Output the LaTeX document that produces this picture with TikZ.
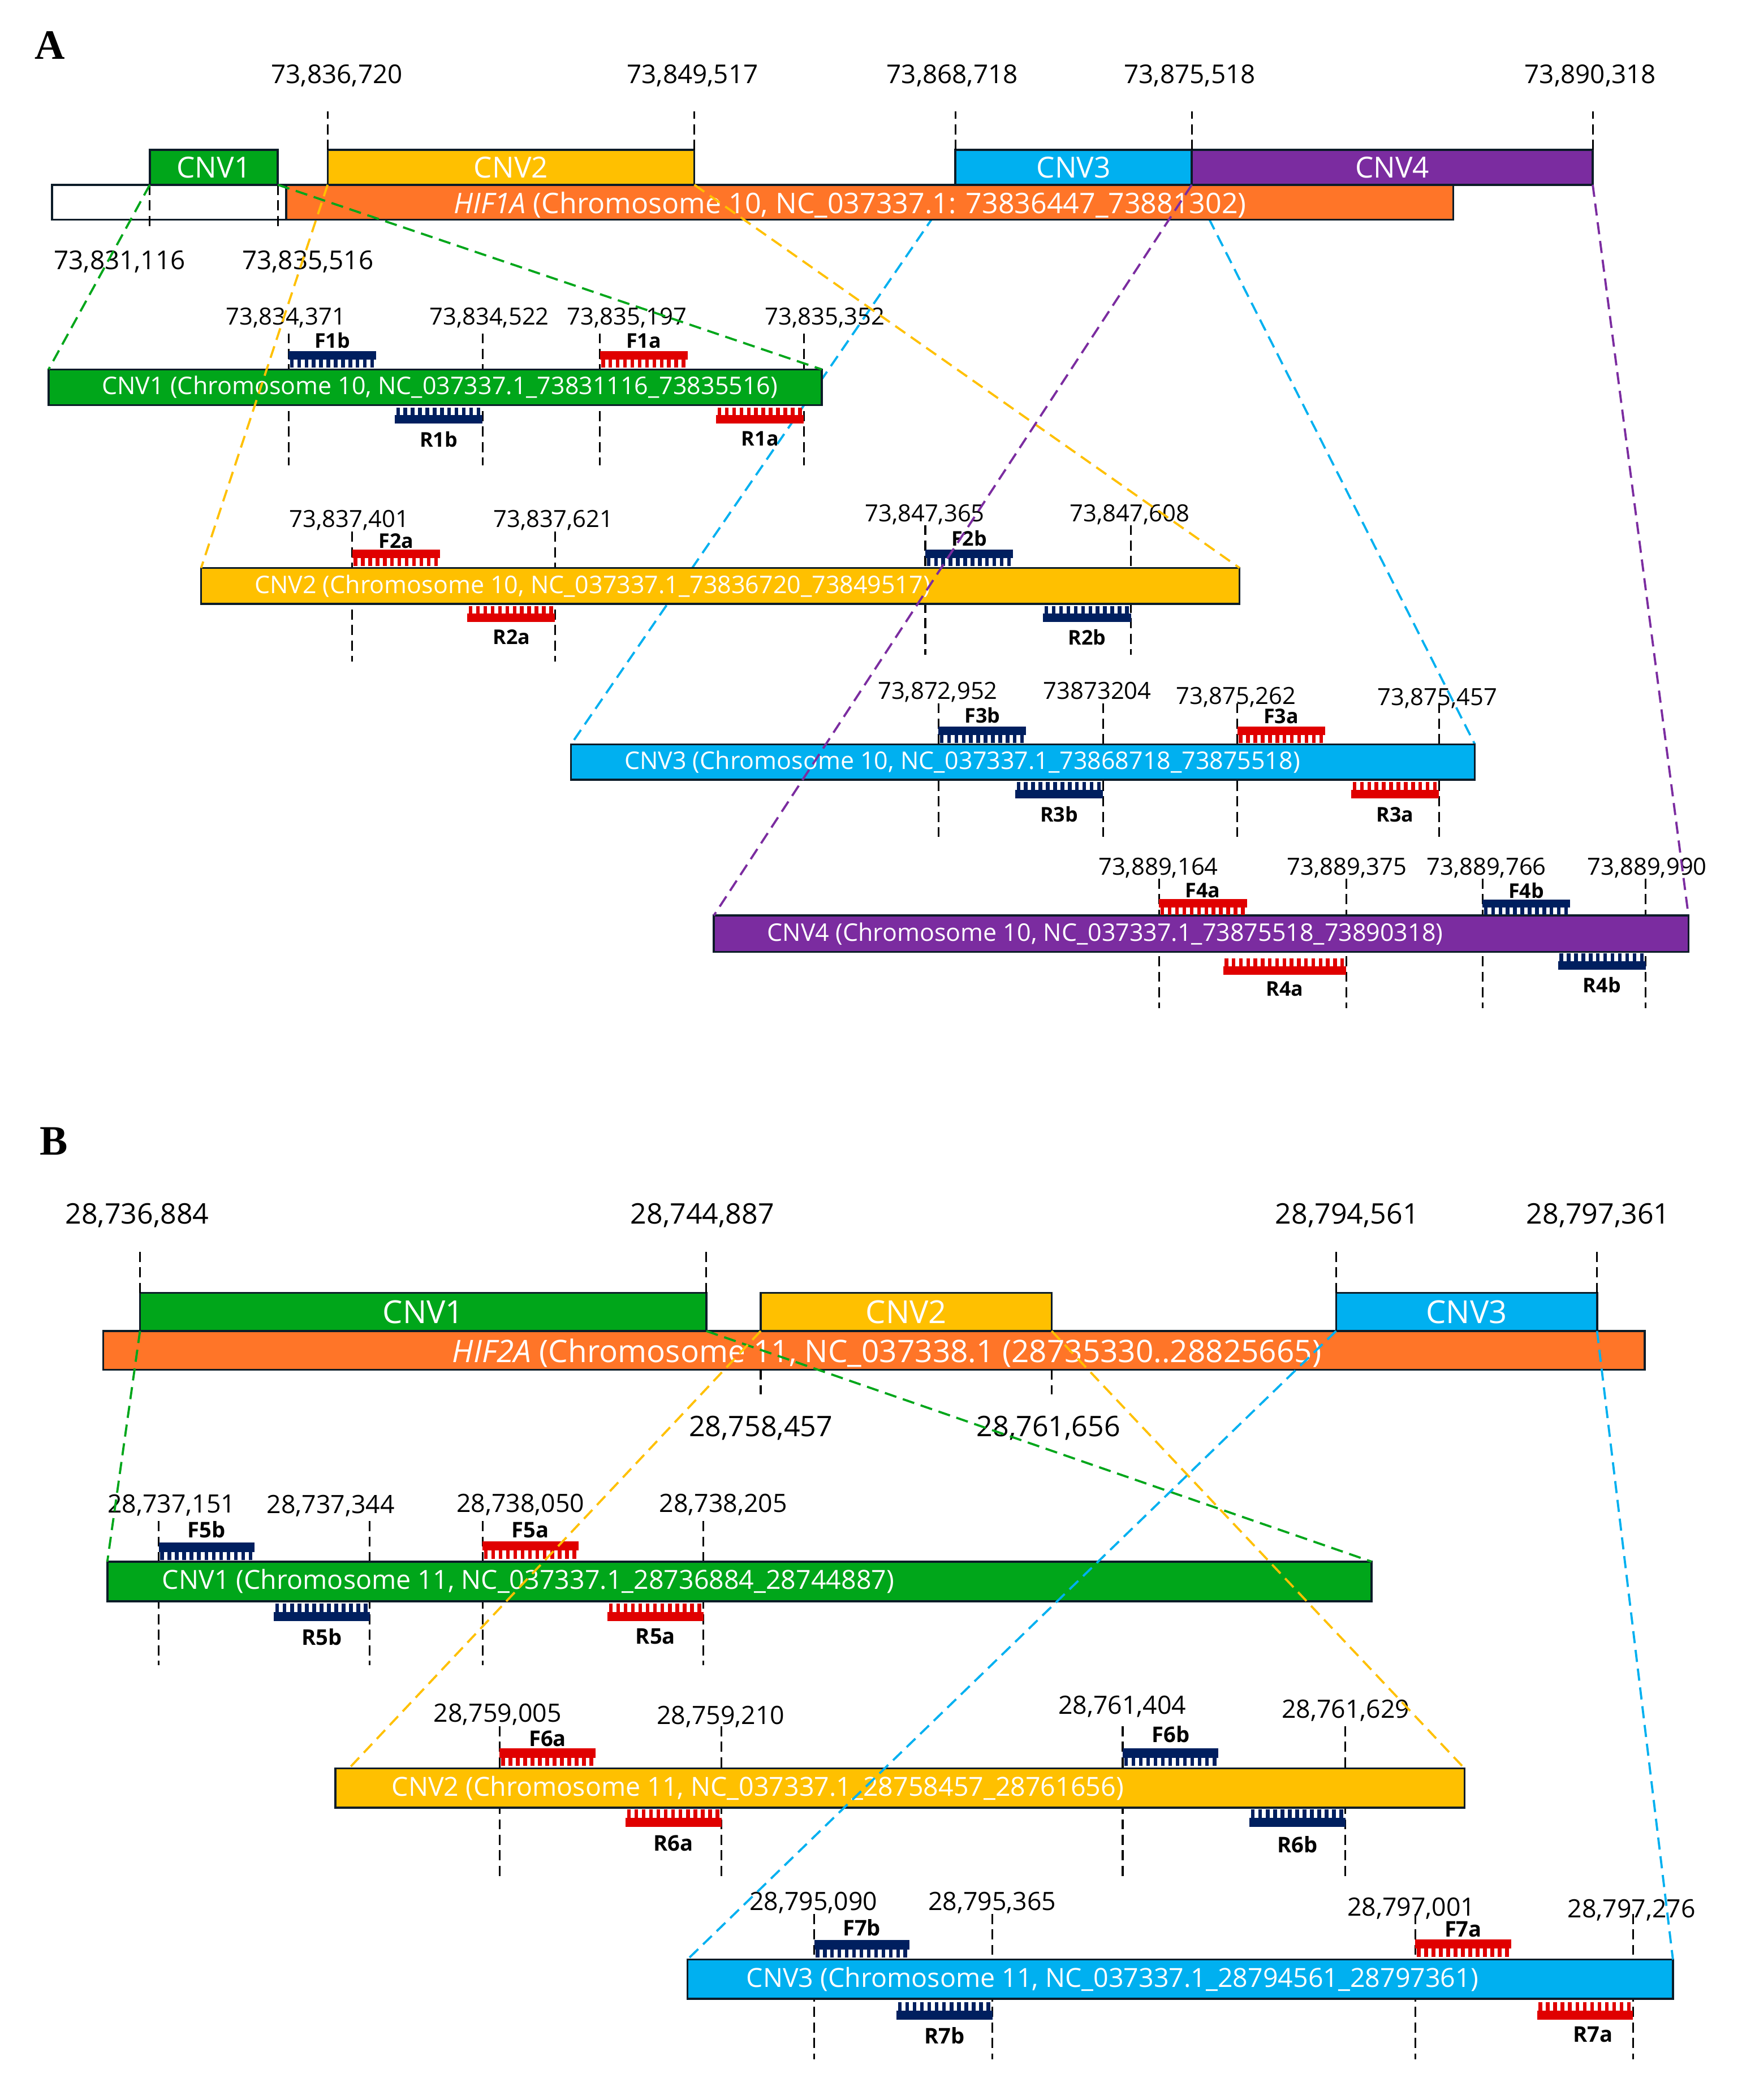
\documentclass[tikz,border=0pt]{standalone}
\usepackage{fontspec}
\setmainfont{Open Sans}
\newfontfamily\panelfont{Liberation Serif}
\usepackage{tikz}
\usetikzlibrary{backgrounds}
\definecolor{cnvgreen}{HTML}{00A61A}
\definecolor{cnvyellow}{HTML}{FFC000}
\definecolor{cnvblue}{HTML}{00B0F0}
\definecolor{cnvpurple}{HTML}{7B2CA0}
\definecolor{geneorange}{HTML}{FF7528}
\definecolor{primred}{HTML}{E00000}
\definecolor{primnavy}{HTML}{001F5F}
\definecolor{barline}{HTML}{0C1C28}
\tikzset{panellab/.style={inner sep=0pt,font=\panelfont\fontsize{31}{31}\selectfont\bfseries}}
\tikzset{genebar/.style={draw=barline,line width=1.5pt,inner sep=0pt,outer sep=0pt,anchor=north west}}
\tikzset{detailbar/.style={draw=barline,line width=1.5pt,inner sep=0pt,outer sep=0pt,anchor=north west}}
\tikzset{cnvboxA/.style={genebar,minimum height=25.9pt,text=white,font=\fontsize{21.5}{24}\selectfont}}
\tikzset{cnvboxB/.style={genebar,minimum height=28.2pt,text=white,font=\fontsize{23.5}{26}\selectfont}}
\tikzset{genetextA/.style={anchor=base,inner sep=0pt,text=white,font=\fontsize{21}{24}\selectfont}}
\tikzset{genetextB/.style={anchor=base,inner sep=0pt,text=white,font=\fontsize{23}{26}\selectfont}}
\tikzset{bartextA/.style={anchor=west,inner sep=0pt,text=white,font=\fontsize{18}{21}\selectfont}}
\tikzset{bartextB/.style={anchor=west,inner sep=0pt,text=white,font=\fontsize{19.5}{22}\selectfont}}
\tikzset{toplabA/.style={anchor=base,inner sep=0pt,font=\fontsize{19.2}{22}\selectfont}}
\tikzset{toplabB/.style={anchor=base,inner sep=0pt,font=\fontsize{21}{24}\selectfont}}
\tikzset{poslabA/.style={anchor=base,inner sep=0pt,font=\fontsize{17.5}{20}\selectfont}}
\tikzset{poslabB/.style={anchor=base,inner sep=0pt,font=\fontsize{18.7}{21}\selectfont}}
\tikzset{primlabA/.style={anchor=base,inner sep=0pt,font=\fontsize{15}{17}\selectfont\bfseries}}
\tikzset{primlabB/.style={anchor=base,inner sep=0pt,font=\fontsize{16}{18}\selectfont\bfseries}}
\tikzset{vtick/.style={draw=black,line width=1.3pt,dash pattern=on 7.5pt off 4pt}}
\tikzset{cnvlink/.style={line width=1.6pt,dash pattern=on 9pt off 5pt}}
% primer: solid strand with a comb of teeth towards the CNV bar
\tikzset{
  pics/fprimer/.style n args={3}{code={
    \pgfmathtruncatemacro\nteeth{#2/5.4+0.5}
    \pgfmathsetmacro\pitch{#2/\nteeth}
    \fill[#1] (0,0) rectangle ({#2},{0.53*#3});
    \foreach \i in {1,...,\nteeth}
      \fill[#1] ({(\i-0.8)*\pitch},{0.53*#3}) rectangle ++({0.5*\pitch},{0.47*#3});
  }},
  pics/rprimer/.style n args={3}{code={
    \pgfmathtruncatemacro\nteeth{#2/5.4+0.5}
    \pgfmathsetmacro\pitch{#2/\nteeth}
    \foreach \i in {1,...,\nteeth}
      \fill[#1] ({(\i-0.8)*\pitch},0) rectangle ++({0.5*\pitch},{0.47*#3});
    \fill[#1] (0,{0.47*#3}) rectangle ({#2},{#3});
  }}
}
\begin{document}
\begin{tikzpicture}[x=1pt,y=-1pt]
\useasboundingbox (0,0) rectangle (1290,1556);

%%% A
\node[panellab] (labA) at (37,33.7) {A};

% ticks of the primer rows
\draw[vtick] (213.7,247) -- (213.7,345) (357.4,247) -- (357.4,345) (444.3,247) -- (444.3,345) (595.5,247) -- (595.5,345);
\draw[vtick] (260.9,394) -- (260.9,490) (411.2,394) -- (411.2,490) (685.4,389) -- (685.4,485) (837.7,389) -- (837.7,485);
\draw[vtick] (695.1,521) -- (695.1,620) (817,521) -- (817,620) (916.6,521) -- (916.6,620) (1065.9,521) -- (1065.9,620);
\draw[vtick] (858.6,651) -- (858.6,747) (997.2,651) -- (997.2,747) (1098.1,651) -- (1098.1,747) (1219.1,651) -- (1219.1,747);

% HIF1A and its CNVs
\node[genebar,fill=white,minimum width=173.5pt,minimum height=25.8pt] (hifAw) at (38.5,136.9) {};
\node[genebar,fill=geneorange,minimum width=864.5pt,minimum height=25.8pt] (hifA) at (212,136.9) {};
\node[genetextA] (hifAtext) at (629.7,158.3) {\textit{HIF1A} (Chromosome 10, NC\_037337.1: 73836447\_73881302)};
\node[cnvboxA,fill=cnvgreen,minimum width=94.8pt] (cnv1s) at (111,111) {CNV1};
\node[cnvboxA,fill=cnvyellow,minimum width=271.6pt] (cnv2s) at (242.7,111) {CNV2};
\node[cnvboxA,fill=cnvblue,minimum width=175.1pt] (cnv3s) at (707.7,111) {CNV3};
\node[cnvboxA,fill=cnvpurple,minimum width=297pt] (cnv4s) at (882.8,111) {CNV4};
\draw[vtick] (cnv2s.north west) -- ++(0,-28.6);
\draw[vtick] (cnv2s.north east) -- ++(0,-28.6);
\draw[vtick] (cnv3s.north west) -- ++(0,-28.6);
\draw[vtick] (cnv4s.north west) -- ++(0,-28.6);
\draw[vtick] (cnv4s.north east) -- ++(0,-28.6);
\draw[vtick] (cnv1s.south west) -- ++(0,32.8);
\draw[vtick] (cnv1s.south east) -- ++(0,32.8);

\node[toplabA] (p836720) at (249.5,62) {73,836,720};
\node[toplabA] (p849517) at (513,62) {73,849,517};
\node[toplabA] (p868718) at (705.4,62) {73,868,718};
\node[toplabA] (p875518) at (881.3,62) {73,875,518};
\node[toplabA] (p890318) at (1178,62) {73,890,318};
\node[toplabA] (p831116) at (88.6,199.5) {73,831,116};
\node[toplabA] (p835516) at (228,199.5) {73,835,516};

% detail bars
\node[detailbar,fill=cnvgreen,minimum width=572.7pt,minimum height=26.5pt] (cnv1A) at (36,273.7) {};
\node[bartextA] (cnv1Atext) at ([xshift=39.4pt]cnv1A.west) {CNV1 (Chromosome 10, NC\_037337.1\_73831116\_73835516)};
\node[detailbar,fill=cnvyellow,minimum width=769.2pt,minimum height=26.6pt] (cnv2A) at (149,420.8) {};
\node[bartextA] (cnv2Atext) at ([xshift=39.4pt]cnv2A.west) {CNV2 (Chromosome 10, NC\_037337.1\_73836720\_73849517)};
\node[detailbar,fill=cnvblue,minimum width=669.5pt,minimum height=26.2pt] (cnv3A) at (423,551.5) {};
\node[bartextA] (cnv3Atext) at ([xshift=39.4pt]cnv3A.west) {CNV3 (Chromosome 10, NC\_037337.1\_73868718\_73875518)};
\node[detailbar,fill=cnvpurple,minimum width=721.9pt,minimum height=27pt] (cnv4A) at (528.8,678.3) {};
\node[bartextA] (cnv4Atext) at ([xshift=39.4pt]cnv4A.west) {CNV4 (Chromosome 10, NC\_037337.1\_73875518\_73890318)};

% primers
\pic at (213.7,260.2) {fprimer={primnavy}{65}{12}};
\pic at (444.3,260.2) {fprimer={primred}{65}{12}};
\pic at (292.4,302) {rprimer={primnavy}{65}{12}};
\pic at (530.5,302) {rprimer={primred}{65}{12}};
\pic at (260.9,407.3) {fprimer={primred}{65}{12}};
\pic at (346.2,449) {rprimer={primred}{65}{12}};
\pic at (685.4,407.3) {fprimer={primnavy}{65}{12}};
\pic at (772.7,449) {rprimer={primnavy}{65}{12}};
\pic at (695.1,538.3) {fprimer={primnavy}{65}{12}};
\pic at (752,579.5) {rprimer={primnavy}{65}{12}};
\pic at (916.6,538.3) {fprimer={primred}{65}{12}};
\pic at (1000.9,579.5) {rprimer={primred}{65}{12}};
\pic at (858.6,666) {fprimer={primred}{65}{12}};
\pic at (906,710.3) {rprimer={primred}{91.2}{12}};
\pic at (1098.1,666.5) {fprimer={primnavy}{65}{11.5}};
\pic at (1154.1,706.5) {rprimer={primnavy}{65}{12}};

\node[primlabA] (F1b) at (246.2,258) {F1b};
\node[primlabA] (F1a) at (476.8,258) {F1a};
\node[primlabA] (R1b) at (324.9,331) {R1b};
\node[primlabA] (R1a) at (563,330.5) {R1a};
\node[primlabA] (F2a) at (293.4,406) {F2a};
\node[primlabA] (F2b) at (717.9,404.5) {F2b};
\node[primlabA] (R2a) at (379,477.5) {R2a};
\node[primlabA] (R2b) at (805.2,478) {R2b};
\node[primlabA] (F3b) at (727.6,535.8) {F3b};
\node[primlabA] (F3a) at (949,536) {F3a};
\node[primlabA] (R3b) at (784.5,609) {R3b};
\node[primlabA] (R3a) at (1033.4,609) {R3a};
\node[primlabA] (F4a) at (891,665) {F4a};
\node[primlabA] (F4b) at (1130.6,665.5) {F4b};
\node[primlabA] (R4a) at (951.6,738) {R4a};
\node[primlabA] (R4b) at (1186.6,735.3) {R4b};

\node[poslabA] (p834371) at (211.6,240.5) {73,834,371};
\node[poslabA] (p834522) at (362.4,240.5) {73,834,522};
\node[poslabA] (p835197) at (464.4,240.5) {73,835,197};
\node[poslabA] (p835352) at (611,240.5) {73,835,352};
\node[poslabA] (p837401) at (258.8,390.5) {73,837,401};
\node[poslabA] (p837621) at (410,390.5) {73,837,621};
\node[poslabA] (p847365) at (685,386.4) {73,847,365};
\node[poslabA] (p847608) at (836.8,386.4) {73,847,608};
\node[poslabA] (p872952) at (694.6,518) {73,872,952};
\node[poslabA] (p873204) at (812.8,518) {73873204};
\node[poslabA] (p875262) at (915.5,521.6) {73,875,262};
\node[poslabA] (p875457) at (1064.7,522.6) {73,875,457};
\node[poslabA] (p889164) at (858,648.4) {73,889,164};
\node[poslabA] (p889375) at (997.7,648.4) {73,889,375};
\node[poslabA] (p889766) at (1101,648.4) {73,889,766};
\node[poslabA] (p889990) at (1220,648.4) {73,889,990};

\draw[cnvlink,cnvgreen] (cnv1s.south west) -- (cnv1A.north west);
\draw[cnvlink,cnvgreen] (cnv1s.south east) -- (cnv1A.north east);
\draw[cnvlink,cnvyellow] (cnv2s.south west) -- (cnv2A.north west);
\draw[cnvlink,cnvyellow] (cnv2s.south east) -- (cnv2A.north east);
\draw[cnvlink,cnvpurple] (cnv4s.south west) -- (cnv4A.north west);
\draw[cnvlink,cnvpurple] (cnv4s.south east) -- (cnv4A.north east);

%%% B
\node[panellab] (labB) at (40,845.5) {B};

\draw[vtick] (117.6,1127) -- (117.6,1234) (273.9,1127) -- (273.9,1234) (357.4,1127) -- (357.4,1234) (521,1127) -- (521,1234);
\draw[vtick] (370.1,1279) -- (370.1,1392) (534.4,1279) -- (534.4,1392) (831.6,1279) -- (831.6,1392) (996.6,1279) -- (996.6,1392);
\draw[vtick] (603.1,1418) -- (603.1,1526) (735.1,1418) -- (735.1,1526) (1048.4,1418) -- (1048.4,1526) (1209.6,1418) -- (1209.6,1526);

\node[genebar,fill=geneorange,minimum width=1141.9pt,minimum height=28.7pt] (hifB) at (76.5,986.2) {};
\node[genetextB] (hifBtext) at (656.9,1009.5) {\textit{HIF2A} (Chromosome 11, NC\_037338.1 (28735330..28825665)};
\node[cnvboxB,fill=cnvgreen,minimum width=419.5pt] (cnv1sB) at (103.7,958) {CNV1};
\node[cnvboxB,fill=cnvyellow,minimum width=215.5pt] (cnv2sB) at (563.5,958) {CNV2};
\node[cnvboxB,fill=cnvblue,minimum width=193.3pt] (cnv3sB) at (989.7,958) {CNV3};
\draw[vtick] (cnv1sB.north west) -- ++(0,-31.7);
\draw[vtick] (cnv1sB.north east) -- ++(0,-31.7);
\draw[vtick] (cnv3sB.north west) -- ++(0,-31.7);
\draw[vtick] (cnv3sB.north east) -- ++(0,-31.7);
\draw[vtick] (cnv2sB.south west) ++(0,28.7) -- ++(0,18.1);
\draw[vtick] (cnv2sB.south east) ++(0,28.7) -- ++(0,18.1);

\node[toplabB] (p736884) at (101.6,907) {28,736,884};
\node[toplabB] (p744887) at (520.3,907) {28,744,887};
\node[toplabB] (p794561) at (997.9,907) {28,794,561};
\node[toplabB] (p797361) at (1183.8,907) {28,797,361};
\node[toplabB] (p758457) at (563.5,1064.4) {28,758,457};
\node[toplabB] (p761656) at (776.6,1064.4) {28,761,656};

\node[detailbar,fill=cnvgreen,minimum width=936.5pt,minimum height=29.4pt] (cnv1B) at (79.5,1157.1) {};
\node[bartextB] (cnv1Btext) at ([xshift=40.5pt]cnv1B.west) {CNV1 (Chromosome 11, NC\_037337.1\_28736884\_28744887)};
\node[detailbar,fill=cnvyellow,minimum width=836.3pt,minimum height=29pt] (cnv2B) at (248.5,1310.3) {};
\node[bartextB] (cnv2Btext) at ([xshift=41.5pt]cnv2B.west) {CNV2 (Chromosome 11, NC\_037337.1\_28758457\_28761656)};
\node[detailbar,fill=cnvblue,minimum width=730pt,minimum height=29.1pt] (cnv3B) at (509.2,1451.9) {};
\node[bartextB] (cnv3Btext) at ([xshift=43.5pt]cnv3B.west) {CNV3 (Chromosome 11, NC\_037337.1\_28794561\_28797361)};

\pic at (117.6,1143) {fprimer={primnavy}{71}{13}};
\pic at (357.4,1142) {fprimer={primred}{71}{13}};
\pic at (202.9,1188.3) {rprimer={primnavy}{71}{13}};
\pic at (450,1188.3) {rprimer={primred}{71}{13}};
\pic at (370.1,1295.5) {fprimer={primred}{71}{13}};
\pic at (463.4,1340.8) {rprimer={primred}{71}{13}};
\pic at (831.6,1295.5) {fprimer={primnavy}{71}{13}};
\pic at (925.6,1340.8) {rprimer={primnavy}{71}{13}};
\pic at (603.1,1437.5) {fprimer={primnavy}{70.5}{13}};
\pic at (664.1,1483.5) {rprimer={primnavy}{71}{13}};
\pic at (1048.4,1437) {fprimer={primred}{71}{13}};
\pic at (1138.6,1483.5) {rprimer={primred}{71}{13}};

\node[primlabB] (F5b) at (153,1139.5) {F5b};
\node[primlabB] (F5a) at (392.8,1139.3) {F5a};
\node[primlabB] (R5b) at (238.4,1219) {R5b};
\node[primlabB] (R5a) at (485.5,1218.3) {R5a};
\node[primlabB] (F6a) at (405.6,1294) {F6a};
\node[primlabB] (F6b) at (867.1,1291.2) {F6b};
\node[primlabB] (R6a) at (498.9,1371.6) {R6a};
\node[primlabB] (R6b) at (961.1,1372.5) {R6b};
\node[primlabB] (F7b) at (638.3,1434.2) {F7b};
\node[primlabB] (F7a) at (1083.8,1435.3) {F7a};
\node[primlabB] (R7b) at (699.6,1514.5) {R7b};
\node[primlabB] (R7a) at (1180,1513) {R7a};

\node[poslabB] (p737151) at (127,1121) {28,737,151};
\node[poslabB] (p737344) at (244.9,1121.5) {28,737,344};
\node[poslabB] (p738050) at (385.5,1120.5) {28,738,050};
\node[poslabB] (p738205) at (535.8,1120.5) {28,738,205};
\node[poslabB] (p759005) at (368.5,1276) {28,759,005};
\node[poslabB] (p759210) at (533.8,1277.6) {28,759,210};
\node[poslabB] (p761404) at (831.3,1270.2) {28,761,404};
\node[poslabB] (p761629) at (996.7,1273) {28,761,629};
\node[poslabB] (p795090) at (602.6,1415.3) {28,795,090};
\node[poslabB] (p795365) at (734.9,1415.3) {28,795,365};
\node[poslabB] (p797001) at (1045.4,1419.5) {28,797,001};
\node[poslabB] (p797276) at (1208.6,1421) {28,797,276};

\draw[cnvlink,cnvgreen] (cnv1sB.south west) -- (cnv1B.north west);
\draw[cnvlink,cnvgreen] (cnv1sB.south east) -- (cnv1B.north east);
\draw[cnvlink,cnvyellow] (cnv2sB.south west) -- ([xshift=10pt]cnv2B.north west);
\draw[cnvlink,cnvyellow] (cnv2sB.south east) -- (cnv2B.north east);
\draw[cnvlink,cnvblue] (cnv3sB.south west) -- (cnv3B.north west);
\draw[cnvlink,cnvblue] (cnv3sB.south east) -- (cnv3B.north east);

% CNV3 links of A run under the gene bar
\begin{scope}[on background layer]
\fill[white] (0,0) rectangle (1290,1556);
\draw[cnvlink,cnvblue] (cnv3s.south west) -- (cnv3A.north west);
\draw[cnvlink,cnvblue] (cnv3s.south east) -- (cnv3A.north east);
\end{scope}
\end{tikzpicture}
\end{document}
